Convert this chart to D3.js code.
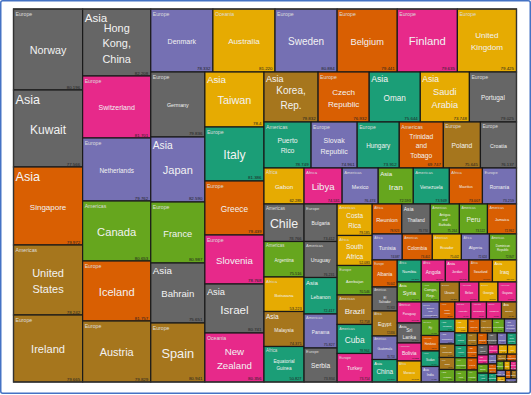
<!DOCTYPE html>
<html>
<head>
<meta charset="utf-8">
<script src="https://cdn.jsdelivr.net/npm/d3@7"></script>
<style>
  body { margin: 0; background: #fff; }
  svg { display: block; font-family: "Liberation Sans", Arial, sans-serif; }
</style>
</head>
<body>
<svg id="chart" width="531" height="395"></svg>
<script>
// one line per strip of the treemap, in drawing order
var countries = [
  "Norway", "Kuwait", "Singapore", "United States", "Ireland",
  "Hong Kong, China", "Switzerland", "Netherlands", "Canada", "Iceland", "Austria",
  "Denmark", "Australia", "Sweden", "Belgium", "Finland", "United Kingdom",
  "Germany", "Japan", "France", "Bahrain", "Spain",
  "Taiwan", "Italy", "Greece", "Slovenia", "Israel", "New Zealand",
  "Korea, Rep.", "Czech Republic", "Oman", "Saudi Arabia", "Portugal",
  "Puerto Rico", "Slovak Republic", "Hungary", "Trinidad and Tobago", "Poland", "Croatia",
  "Gabon", "Chile", "Argentina", "Botswana", "Malaysia", "Equatorial Guinea",
  "Libya", "Mexico", "Iran", "Venezuela", "Mauritius", "Romania",
  "Bulgaria", "Uruguay", "Lebanon", "Panama", "Serbia",
  "Costa Rica", "South Africa", "Azerbaijan", "Brazil", "Cuba", "Turkey",
  "Reunion", "Thailand", "Antigua and Barbuda", "Peru", "Jamaica",
  "Tunisia", "Colombia", "Ecuador", "Algeria", "Dominican Republic",
  "Albania", "El Salvador", "Egypt", "Guatemala", "China",
  "Namibia", "Angola", "Jordan", "Swaziland", "Iraq",
  "Syria", "Paraguay", "Sri Lanka", "Bolivia", "Morocco",
  "Congo, Rep.", "Ukraine", "Belize", "Georgia", "Guyana",
  "Bosnia and Herzegovina", "Fiji", "Honduras", "Sudan", "India",
  "Cape Verde", "Vanuatu", "Nicaragua", "Moldova", "Bhutan",
  "Mongolia", "Philippines", "Indonesia", "Chad", "Vietnam",
  "Pakistan", "Nigeria", "Cameroon", "Uzbekistan", "Kyrgyz Republic",
  "Ghana", "Yemen", "Mauritania", "Laos",
  "Senegal", "Cambodia", "Kenya", "Lesotho",
  "Djibouti", "Bangladesh", "Zambia", "Cote d'Ivoire", "Nepal",
  "Tajikistan", "Benin", "Haiti", "Tanzania",
  "Gambia", "Mali", "Uganda", "Burkina Faso",
  "Rwanda", "Guinea", "Madagascar", "Ethiopia",
  "Togo", "Sierra Leone", "Mozambique",
  "Malawi", "Niger", "Eritrea",
  "Liberia"
];

// E Europe, A Asia, Am Americas, Af Africa, O Oceania
var regionCodes = [
  "E", "A", "A", "Am", "E",
  "A", "E", "E", "Am", "E", "E",
  "E", "O", "E", "E", "E", "E",
  "E", "A", "E", "A", "E",
  "A", "E", "E", "E", "A", "O",
  "A", "E", "A", "A", "E",
  "Am", "E", "E", "Am", "E", "E",
  "Af", "Am", "Am", "Af", "A", "Af",
  "Af", "Am", "A", "Am", "Af", "E",
  "E", "Am", "A", "Am", "E",
  "Am", "Af", "E", "Am", "Am", "E",
  "Af", "A", "Am", "Am", "Am",
  "Af", "Am", "Am", "Af", "Am",
  "E", "Am", "Af", "Am", "A",
  "Af", "Af", "A", "Af", "A",
  "A", "Am", "A", "Am", "Af",
  "Af", "E", "Am", "E", "Am",
  "E", "O", "Am", "Af", "A",
  "Af", "O", "Am", "E", "A",
  "A", "A", "A", "Af", "A",
  "A", "Af", "Af", "A", "A",
  "Af", "A", "Af", "A",
  "Af", "A", "Af", "Af",
  "Af", "A", "Af", "Af", "A",
  "A", "Af", "Am", "Af",
  "Af", "Af", "Af", "Af",
  "Af", "Af", "Af", "Af",
  "Af", "Af", "Af",
  "Af", "Af", "Af",
  "Af"
];
var regionNames = { E: "Europe", A: "Asia", Am: "Americas", Af: "Africa", O: "Oceania" };

// size of each box
var sizes = [
  5589, 5313, 5382, 4830, 4623,
  4556, 4216, 4284, 4080, 4080, 4148,
  3906, 3906, 3906, 3780, 3780, 3717,
  3510, 3510, 3294, 3240, 3186,
  3245, 3186, 3186, 2891, 2891, 2891,
  2700, 2550, 2550, 2450, 2350,
  2162, 2116, 1932, 2024, 1702, 1656,
  1440, 1500, 1420, 1380, 1400, 1420,
  1368, 1296, 1260, 1296, 1188, 1224,
  1238, 1188, 1205, 1122, 1122,
  1102, 1050, 1032, 1032, 1015, 998,
  885, 855, 870, 840, 870,
  780, 780, 754, 728, 702,
  675, 600, 625, 588, 562,
  528, 528, 517, 517, 528,
  480, 504, 480, 432, 504,
  370, 390, 390, 380, 370,
  306, 297, 279, 279, 279,
  264, 272, 264, 255, 255,
  194, 194, 209, 186, 194,
  182, 168, 175, 168, 168,
  150, 148, 146, 145,
  132, 130, 128, 126,
  118, 116, 114, 112, 110,
  100, 98, 96, 94,
  86, 84, 82, 80,
  72, 70, 68, 66,
  58, 56, 54,
  48, 46, 44,
  38
];

// value printed in the corner
var lifeExp = [
  "80.196", "77.566", "79.972", "78.242", "79.665",
  "82.208", "81.701", "79.762", "80.653", "81.757", "79.829",
  "78.332", "81.220", "80.884", "79.441", "79.635", "79.425",
  "79.836", "82.590", "80.987", "75.651", "80.941",
  "78.4", "81.386", "79.439", "78.768", "80.741", "80.356",
  "79.832", "76.932", "75.644", "73.748", "79.025",
  "78.749", "74.961", "73.912", "69.747", "75.645", "76.137",
  "62.285", "78.766", "75.516", "53.223", "74.371", "50.827",
  "74.531", "76.474", "72.593", "73.949", "73.007", "73.259",
  "73.412", "76.231", "72.417", "75.827", "73.934",
  "79.185", "52.083", "70.546", "72.758", "78.964", "73.714",
  "78.923", "73.774", "75.264", "73.522", "72.962",
  "74.587", "73.402", "75.442", "72.624", "72.847",
  "76.642", "71.913", "72.836", "70.753", "73.273",
  "61.865", "48.098", "73.145", "47.966", "68.499",
  "74.467", "71.985", "74.549", "66.252", "71.865",
  "54.165", "68.253", "76.070", "73.303", "69.516",
  "75.386", "69.182", "72.846", "61.490", "64.130",
  "73.825", "70.486", "73.027", "68.555", "66.426",
  "67.279", "72.253", "70.778", "48.997", "74.570",
  "66.500", "48.070", "50.954", "67.922", "67.603",
  "56.991", "62.860", "56.695", "64.956",
  "55.843", "61.382", "54.126", "45.016",
  "55.458", "66.130", "45.427", "57.227", "66.708",
  "66.669", "61.436", "61.340", "55.689",
  "55.521", "48.416", "52.705", "52.954",
  "50.082", "57.605", "60.365", "54.749",
  "62.654", "47.369", "47.884",
  "53.092", "51.041", "58.994",
  "57.787"
];

// colour group of each box (index into the palette)
var colorGroup = [
  7, 7, 1, 6, 6,
  7, 3, 2, 4, 1, 6,
  2, 5, 2, 1, 3, 5,
  7, 2, 4, 7, 6,
  5, 0, 1, 3, 7, 3,
  6, 1, 0, 5, 7,
  0, 2, 0, 1, 6, 7,
  5, 7, 4, 5, 6, 0,
  3, 2, 4, 0, 1, 2,
  7, 7, 0, 2, 7,
  5, 5, 4, 6, 0, 3,
  1, 7, 4, 4, 1,
  2, 1, 5, 2, 4,
  1, 7, 6, 2, 0,
  0, 3, 3, 1, 5,
  4, 3, 7, 3, 5,
  4, 6, 3, 5, 3,
  2, 4, 1, 0, 2,
  1, 3, 3, 3, 6,
  0, 2, 6, 6, 4,
  5, 1, 6, 4, 2,
  0, 0, 4, 4,
  6, 1, 1, 4,
  1, 7, 2, 0, 7,
  3, 4, 0, 3,
  5, 5, 2, 1,
  0, 6, 1, 4,
  5, 3, 2,
  5, 1, 6,
  2
];

// label weight of each country name
var labelWeight = [
  10.8, 12, 8, 11, 11.1,
  10.9, 7, 6.4, 11.2, 11.1, 10.9,
  7, 8.1, 10, 9.2, 11.3, 8.1,
  5.3, 11, 9.3, 9.6, 12.8,
  10.9, 12.2, 8.3, 9.6, 11.6, 9.7,
  10, 8.1, 8.2, 9.2, 6.4,
  6.9, 7, 6.4, 6.7, 6.7, 5.2,
  6.1, 12.4, 4.5, 4.3, 4.9, 4.7,
  9.6, 5.3, 8.1, 4.9, 3.3, 4.8,
  5, 5.2, 5.1, 4.7, 6.6,
  6.4, 6.6, 3.7, 8, 8.4, 5,
  5.8, 4.5, 3.2, 6.6, 3.8,
  5.4, 4.6, 3.6, 4.3, 3,
  4.5, 3, 5.2, 3, 6.4,
  3.8, 4.8, 3.4, 3, 5.4,
  5.8, 3, 4.9, 4.9, 3,
  4, 3, 3, 3, 3,
  2.4, 2.6, 2.6, 3, 3.2,
  2.4, 2.4, 2.4, 2.4, 2.4,
  2.2, 2.2, 2.2, 2.2, 2.2,
  2.2, 2.2, 2.2, 2.2, 2.2,
  2, 2, 2, 2,
  2, 2, 2, 2,
  2, 2, 2, 2, 2,
  2, 2, 2, 2,
  2, 2, 2, 2,
  2, 2, 2, 2,
  2, 2, 2,
  2, 2, 2,
  2
];

var table = countries.map(function(c, i) {
  return {
    name: c,
    region: regionNames[regionCodes[i]],
    size: sizes[i],
    value: lifeExp[i],
    group: colorGroup[i],
    weight: labelWeight[i]
  };
});

var W = 503, H = 373, X0 = 13.5, Y0 = 9;

var color = d3.scaleOrdinal().domain(d3.range(8)).range(d3.schemeDark2);
var nameSize = d3.scaleLinear().domain([0, 13]).range([0, 13]);

var svg = d3.select("#chart");

// frame of the picture
svg.append("rect")
  .attr("x", 0.75).attr("y", 0.75)
  .attr("width", 529.5).attr("height", 392.5)
  .attr("rx", 2)
  .attr("fill", "#fff")
  .attr("stroke", "#4472c4")
  .attr("stroke-width", 1.5);

var root = d3.hierarchy({ children: table })
  .sum(function(d) { return d.size; });

d3.treemap()
  .tile(d3.treemapSquarify.ratio(1))
  .size([W, H])(root);

var g = svg.append("g")
  .attr("transform", "translate(" + X0 + "," + Y0 + ")");

var cell = g.selectAll("g.cell")
  .data(root.leaves())
  .enter().append("g")
  .attr("class", "cell")
  .attr("transform", function(d) { return "translate(" + d.x0 + "," + d.y0 + ")"; });

cell.append("rect")
  .attr("width", function(d) { return d.x1 - d.x0; })
  .attr("height", function(d) { return d.y1 - d.y0; })
  .attr("fill", function(d) { return color(d.data.group); })
  .attr("stroke", "#1a1a1a")
  .attr("stroke-width", 1.2);

// region in the top left corner (Asia is written large)
cell.append("text")
  .attr("class", "region")
  .each(function(d) {
    var s = Math.sqrt((d.x1 - d.x0) * (d.y1 - d.y0));
    var fs = d.data.region == "Asia" ? s / 5.8 : Math.min(5.2, s / 8.5);
    d3.select(this)
      .attr("x", 2)
      .attr("y", 1.5 + fs)
      .style("font-size", fs + "px")
      .attr("fill", d.data.region == "Asia" ? "#f4f4f4" : "#dcdcdc")
      .text(d.data.region);
  });

// country name, one word per line
cell.append("text")
  .attr("class", "name")
  .attr("text-anchor", "middle")
  .attr("fill", "#f2f2f2")
  .each(function(d) {
    var w = d.x1 - d.x0, h = d.y1 - d.y0;
    var words = d.data.name.split(" ");
    var n = words.length, lh = 1.45;
    var t = d3.select(this)
      .attr("y", h / 2 + 1)
      .style("font-size", nameSize(d.data.weight) + "px");
    words.forEach(function(word, i) {
      t.append("tspan")
        .attr("x", w / 2)
        .attr("dy", i == 0 ? (-(n - 1) / 2 * lh + 0.35) + "em" : lh + "em")
        .text(word);
    });
  });

// value in the bottom right corner
cell.append("text")
  .attr("class", "value")
  .attr("text-anchor", "end")
  .attr("fill", "#222")
  .each(function(d) {
    var s = Math.sqrt((d.x1 - d.x0) * (d.y1 - d.y0));
    d3.select(this)
      .attr("x", d.x1 - d.x0 - 2.5)
      .attr("y", d.y1 - d.y0 - 1.5)
      .style("font-size", Math.min(4.4, s / 9.5) + "px")
      .text(d.data.value);
  });

g.append("rect")
  .attr("width", W).attr("height", H)
  .attr("fill", "none")
  .attr("stroke", "#333")
  .attr("stroke-width", 1.2);
</script>
</body>
</html>
